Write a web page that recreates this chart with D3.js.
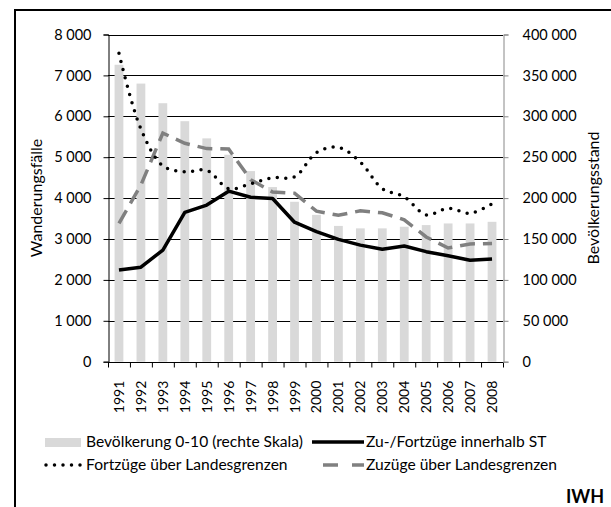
<!DOCTYPE html>
<html>
<head>
<meta charset="utf-8">
<script src="https://cdn.jsdelivr.net/npm/d3@7"></script>
<style>
  body { margin: 0; background: #fff; }
  text { font-family: Lato, "Open Sans", sans-serif; fill: #000; }
</style>
</head>
<body>
<div id="chart"></div>
<script>
// values
const years = ["1991","1992","1993","1994","1995","1996","1997","1998","1999",
               "2000","2001","2002","2003","2004","2005","2006","2007","2008"];
const bevoelkerung = [363000, 340000, 316000, 294000, 273000, 253000, 233000, 213500, 195500,
                      179500, 166000, 163000, 163000, 165000, 167000, 169000, 169000, 171000];
const innerhalbST = [2240, 2310, 2730, 3650, 3830, 4170, 4020, 3990, 3410,
                     3180, 2990, 2850, 2750, 2830, 2690, 2590, 2480, 2510];
const fortzuege = [7540, 5690, 4790, 4640, 4680, 4230, 4350, 4500, 4520,
                   5110, 5240, 4880, 4230, 4030, 3590, 3750, 3630, 3860];
const zuzuege = [3380, 4320, 5590, 5340, 5210, 5200, 4450, 4150, 4120,
                 3680, 3580, 3690, 3640, 3470, 3050, 2780, 2880, 2890];
const leftTicks = [0, 1000, 2000, 3000, 4000, 5000, 6000, 7000, 8000];
const rightTicks = [0, 50000, 100000, 150000, 200000, 250000, 300000, 350000, 400000];
const legendItems = ["Bevölkerung 0-10 (rechte Skala)", "Zu-/Fortzüge innerhalb ST",
                     "Fortzüge über Landesgrenzen", "Zuzüge über Landesgrenzen"];

const W = 611, H = 507;
const plot = {left: 108, right: 503, top: 34.5, bottom: 361.7};

const fmt = d3.formatLocale({decimal: ",", thousands: " ", grouping: [3], currency: ["", "€"]}).format(",");

const svg = d3.select("#chart").append("svg")
  .attr("width", W).attr("height", H);

// outer frame (runs off the right and bottom edge)
svg.append("rect")
  .attr("x", 15).attr("y", 10).attr("width", 640).attr("height", 540)
  .attr("fill", "none").attr("stroke", "#000").attr("stroke-width", 2);

const x = d3.scaleBand().domain(years)
  .range([plot.left, plot.right]).paddingInner(0.6).paddingOuter(0.3);
const xEdge = d3.scaleLinear().domain([0, years.length]).range([plot.left, plot.right]);
const yL = d3.scaleLinear().domain([0, 8000]).range([plot.bottom, plot.top]);
const yR = d3.scaleLinear().domain([0, 400000]).range([plot.bottom, plot.top]);

// gridlines
svg.append("g")
  .selectAll("line").data(leftTicks.slice(1)).join("line")
  .attr("x1", plot.left).attr("x2", plot.right)
  .attr("y1", d => Math.round(yL(d)) + 0.5).attr("y2", d => Math.round(yL(d)) + 0.5)
  .attr("stroke", "#000").attr("stroke-width", 1);

// bars
svg.append("g")
  .selectAll("rect").data(bevoelkerung).join("rect")
  .attr("x", (d, i) => x(years[i]))
  .attr("y", d => yR(d))
  .attr("width", x.bandwidth())
  .attr("height", d => plot.bottom - yR(d))
  .attr("fill", "#d9d9d9");

// left axis
const gL = svg.append("g")
  .attr("transform", `translate(${plot.left + 0.5},0)`)
  .call(d3.axisLeft(yL).tickValues(leftTicks).tickSize(5).tickPadding(12).tickFormat(fmt));
gL.select(".domain").attr("stroke", "#000");
gL.selectAll("text").style("font-size", "14.5px").attr("font-family", null);

// right axis
const gR = svg.append("g")
  .attr("transform", `translate(${plot.right + 0.5},0)`)
  .call(d3.axisRight(yR).tickValues(rightTicks).tickSize(5).tickPadding(14).tickFormat(fmt));
gR.select(".domain").attr("stroke", "#888");
gR.selectAll(".tick line").attr("stroke", "#888");
gR.selectAll("text").style("font-size", "14.5px").attr("font-family", null);

// x axis: tick marks at category edges, labels at centres
const gX = svg.append("g")
  .attr("transform", `translate(0,${Math.round(plot.bottom) + 0.5})`)
  .call(d3.axisBottom(xEdge).tickValues(d3.range(years.length + 1)).tickSize(5).tickFormat(""));
gX.select(".domain").attr("stroke", "#000").attr("d", `M${plot.left},0H${plot.right}`);

svg.append("g")
  .selectAll("text").data(years).join("text")
  .attr("transform", d => `translate(${x(d) + x.bandwidth() / 2 + 5},${plot.bottom + 19}) rotate(-90)`)
  .attr("text-anchor", "end")
  .style("font-size", "14px")
  .text(d => d);

// lines
const cx = (d, i) => x(years[i]) + x.bandwidth() / 2;

svg.append("path").datum(zuzuege)
  .attr("d", d3.line().x(cx).y(d => yL(d)))
  .attr("fill", "none").attr("stroke", "#808080").attr("stroke-width", 3.5)
  .attr("stroke-dasharray", "15,8");

svg.append("path").datum(fortzuege)
  .attr("d", d3.line().x(cx).y(d => yL(d)).curve(d3.curveCatmullRom.alpha(0.5)))
  .attr("fill", "none").attr("stroke", "#000").attr("stroke-width", 3.5)
  .attr("stroke-linecap", "round").attr("stroke-dasharray", "0,8.5");

svg.append("path").datum(innerhalbST)
  .attr("d", d3.line().x(cx).y(d => yL(d)))
  .attr("fill", "none").attr("stroke", "#000").attr("stroke-width", 3.5)
  .attr("stroke-linejoin", "round");

// axis titles
svg.append("text")
  .attr("transform", "translate(42,198) rotate(-90)")
  .attr("text-anchor", "middle").style("font-size", "16px")
  .text("Wanderungsfälle");
svg.append("text")
  .attr("transform", "translate(599,198) rotate(-90)")
  .attr("text-anchor", "middle").style("font-size", "16px")
  .text("Bevölkerungsstand");

// legend
const lg = svg.append("g");
lg.append("rect").attr("x", 45).attr("y", 438).attr("width", 36).attr("height", 9).attr("fill", "#d9d9d9");
lg.append("line").attr("x1", 312).attr("x2", 364).attr("y1", 442).attr("y2", 442)
  .attr("stroke", "#000").attr("stroke-width", 3.5);
lg.append("line").attr("x1", 46).attr("x2", 82).attr("y1", 465).attr("y2", 465)
  .attr("stroke", "#000").attr("stroke-width", 3.5).attr("stroke-linecap", "round")
  .attr("stroke-dasharray", "0,8.5");
lg.append("line").attr("x1", 323).attr("x2", 364).attr("y1", 465).attr("y2", 465)
  .attr("stroke", "#808080").attr("stroke-width", 3.5).attr("stroke-dasharray", "15,14");

const legendPos = [[86, 442], [366, 442], [86, 465], [366, 465]];
lg.selectAll("text").data(legendItems).join("text")
  .attr("x", (d, i) => legendPos[i][0])
  .attr("y", (d, i) => legendPos[i][1])
  .attr("dy", "0.35em")
  .style("font-size", "15.6px")
  .text(d => d);

svg.append("text")
  .attr("x", 604).attr("y", 503).attr("text-anchor", "end")
  .style("font-size", "18px").style("font-weight", "bold")
  .text("IWH");
</script>
</body>
</html>
